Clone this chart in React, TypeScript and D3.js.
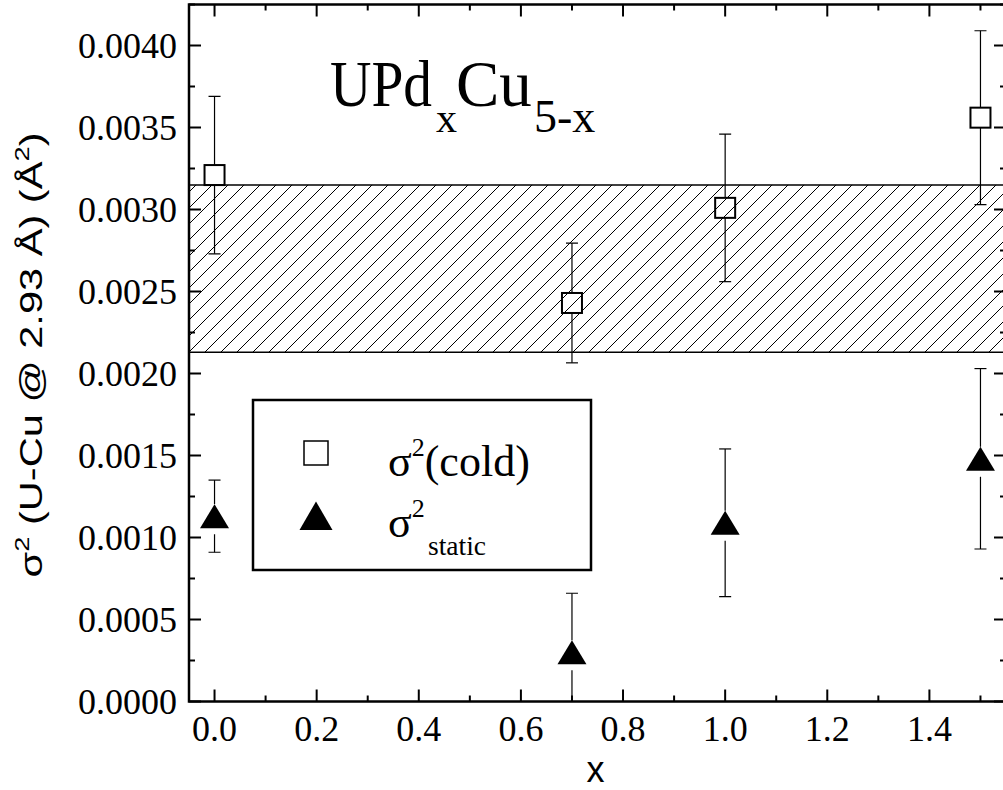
import React from 'react';
import * as d3 from 'd3';

// data
const xValues = [0, 0.7, 1.0, 1.5];
const coldValues = [0.00321, 0.00243, 0.00301, 0.00356];
const coldErrors = [0.00048, 0.000365, 0.00045, 0.00053];
const staticValues = [0.00113, 0.0003, 0.00109, 0.00148];
const staticErrors = [0.00022, 0.00036, 0.00045, 0.00055];
const bandLow = 0.00213;
const bandHigh = 0.00315;

const xMajorTicks = [0, 0.2, 0.4, 0.6, 0.8, 1.0, 1.2, 1.4];
const xMinorTicks = [0.1, 0.3, 0.5, 0.7, 0.9, 1.1, 1.3, 1.5];
const yMajorTicks = [0, 0.0005, 0.001, 0.0015, 0.002, 0.0025, 0.003, 0.0035, 0.004];
const yMinorTicks = [0.00025, 0.00075, 0.00125, 0.00175, 0.00225, 0.00275, 0.00325, 0.00375, 0.00425];

const W = 1003;
const H = 790;
const left = 189;
const right = 1006;
const top = 4.5;
const bottom = 701.5;

const serif = '"Liberation Serif", "Times New Roman", serif';
const sans = '"Liberation Sans", Arial, sans-serif';

export default function App() {
  const x = d3.scaleLinear().domain([-0.05, 1.55]).range([left, right]);
  const y = d3.scaleLinear().domain([0, 0.00425]).range([bottom, top]);
  const fmtY = d3.format('.4f');
  const fmtX = d3.format('.1f');

  const capW = 6;
  const sq = 10;
  const triUp = 12;
  const triDown = 12;
  const triHalf = 14.5;

  const triPath = (cx: number, cy: number, h1: number, h2: number, hw: number) =>
    `M${cx},${cy - h1}L${cx + hw},${cy + h2}L${cx - hw},${cy + h2}Z`;

  return (
    <svg width={W} height={H} style={{ position: 'absolute', left: 0, top: 0, background: '#fff' }}>
      <defs>
        <clipPath id="plot">
          <rect x={left} y={top} width={right - left} height={bottom - top} />
        </clipPath>
        <pattern id="hatch" width={16} height={16} patternUnits="userSpaceOnUse" x={left} y={0}>
          <path d="M0,16L16,0M-4,4L4,-4M12,20L20,12" stroke="#000" strokeWidth={1} />
        </pattern>
      </defs>
      <rect width={W} height={H} fill="#fff" />

      <g clipPath="url(#plot)">
        {/* hatched band */}
        <rect x={left} y={y(bandHigh)} width={right - left} height={y(bandLow) - y(bandHigh)} fill="url(#hatch)" />
        <line x1={left} x2={right} y1={y(bandHigh)} y2={y(bandHigh)} stroke="#000" strokeWidth={1.5} />
        <line x1={left} x2={right} y1={y(bandLow)} y2={y(bandLow)} stroke="#000" strokeWidth={1.5} />

        {/* cold error bars + squares */}
        {xValues.map((xv, i) => {
          const cx = x(xv);
          const cy = y(coldValues[i]);
          const yt = y(coldValues[i] + coldErrors[i]);
          const yb = y(coldValues[i] - coldErrors[i]);
          return (
            <g key={'c' + i} stroke="#000">
              <line x1={cx} x2={cx} y1={yt} y2={cy - sq} strokeWidth={1.2} />
              <line x1={cx} x2={cx} y1={cy + sq} y2={yb} strokeWidth={1.2} />
              <line x1={cx - capW} x2={cx + capW} y1={yt} y2={yt} strokeWidth={1.2} />
              <line x1={cx - capW} x2={cx + capW} y1={yb} y2={yb} strokeWidth={1.2} />
              <rect x={cx - sq} y={cy - sq} width={sq * 2} height={sq * 2} fill="none" strokeWidth={2} />
            </g>
          );
        })}

        {/* static error bars + triangles */}
        {xValues.map((xv, i) => {
          const cx = x(xv);
          const cy = y(staticValues[i]);
          const yt = y(staticValues[i] + staticErrors[i]);
          const yb = y(staticValues[i] - staticErrors[i]);
          return (
            <g key={'s' + i}>
              <line x1={cx} x2={cx} y1={yt} y2={cy - triUp} stroke="#000" strokeWidth={1.2} />
              <line x1={cx} x2={cx} y1={cy + triDown + 6} y2={yb} stroke="#000" strokeWidth={1.2} />
              <line x1={cx - capW} x2={cx + capW} y1={yt} y2={yt} stroke="#000" strokeWidth={1.2} />
              <line x1={cx - capW} x2={cx + capW} y1={yb} y2={yb} stroke="#000" strokeWidth={1.2} />
              <path d={triPath(cx, cy, triUp, triDown, triHalf)} fill="#000" />
            </g>
          );
        })}
      </g>

      {/* ticks */}
      <g stroke="#000" strokeWidth={2}>
        {xMajorTicks.map((t) => (
          <g key={'xm' + t}>
            <line x1={x(t)} x2={x(t)} y1={bottom} y2={bottom - 12} />
            <line x1={x(t)} x2={x(t)} y1={top} y2={top + 12} />
          </g>
        ))}
        {xMinorTicks.map((t) => (
          <g key={'xn' + t}>
            <line x1={x(t)} x2={x(t)} y1={bottom} y2={bottom - 6} />
            <line x1={x(t)} x2={x(t)} y1={top} y2={top + 6} />
          </g>
        ))}
        {yMajorTicks.map((t) => (
          <g key={'ym' + t}>
            <line x1={left} x2={left + 12} y1={y(t)} y2={y(t)} />
            <line x1={right} x2={right - 12} y1={y(t)} y2={y(t)} />
          </g>
        ))}
        {yMinorTicks.map((t) => (
          <g key={'yn' + t}>
            <line x1={left} x2={left + 6} y1={y(t)} y2={y(t)} />
            <line x1={right} x2={right - 6} y1={y(t)} y2={y(t)} />
          </g>
        ))}
      </g>

      {/* frame */}
      <rect x={left} y={top} width={right - left} height={bottom - top} fill="none" stroke="#000" strokeWidth={2.5} />

      {/* tick labels */}
      <g fontFamily={serif} fontSize={36} fill="#000">
        {xMajorTicks.map((t) => (
          <text key={'xl' + t} x={x(t)} y={741} textAnchor="middle">{fmtX(t)}</text>
        ))}
        {yMajorTicks.map((t) => (
          <text key={'yl' + t} x={177} y={y(t) + 12} textAnchor="end">{fmtY(t)}</text>
        ))}
      </g>

      {/* axis titles */}
      <text x={(left + right) / 2 - 2} y={782} textAnchor="middle" fontFamily={sans} fontSize={36}>x</text>
      <text
        transform={`translate(42,355) rotate(-90) scale(1.3,1)`}
        textAnchor="middle"
        fontFamily={sans}
        fontSize={32}
      >
        σ<tspan fontSize={21} dy={-13}>2</tspan>
        <tspan dy={13}> (U-Cu @ 2.93 Å) (Å</tspan>
        <tspan fontSize={21} dy={-13}>2</tspan>
        <tspan dy={13}>)</tspan>
      </text>

      {/* title */}
      <text x={330} y={106} fontFamily={serif} fontSize={65}>
        <tspan textLength={102} lengthAdjust="spacingAndGlyphs">UPd</tspan>
        <tspan x={436} dy={26} fontSize={42}>x</tspan>
        <tspan x={456} dy={-26}>Cu</tspan>
        <tspan x={534} dy={26} fontSize={46}>5-x</tspan>
      </text>

      {/* legend */}
      <rect x={253} y={400} width={338} height={170} fill="#fff" stroke="#000" strokeWidth={2.5} />
      <rect x={316 - 12} y={453 - 12} width={24} height={24} fill="none" stroke="#000" strokeWidth={1.5} />
      <path d={triPath(316, 516, 14.5, 14, 16.5)} fill="#000" />
      <text x={388} y={476} fontFamily={serif} fontSize={44}>
        σ<tspan fontSize={26} dy={-20}>2</tspan>
        <tspan dy={20}>(cold)</tspan>
      </text>
      <text x={388} y={537} fontFamily={serif} fontSize={44}>
        σ<tspan fontSize={26} dy={-20}>2</tspan>
      </text>
      <text x={428} y={555} fontFamily={serif} fontSize={27.5}>static</text>
    </svg>
  );
}
